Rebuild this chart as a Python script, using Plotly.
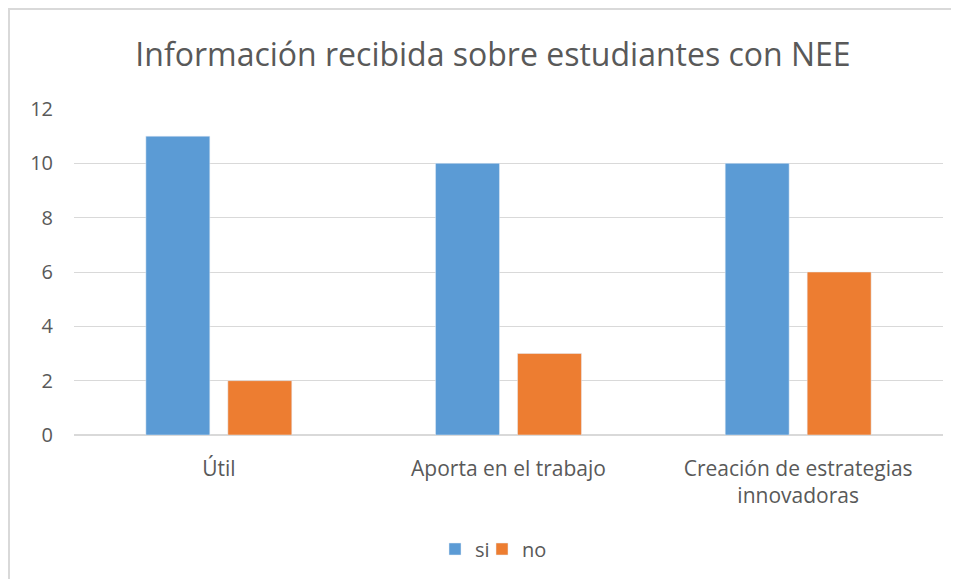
import plotly.graph_objects as go

categories = ["Útil", "Aporta en el trabajo", "Creación de estrategias<br>innovadoras"]
si_values = [11, 10, 10]
no_values = [2, 3, 6]
y_ticks = [0, 2, 4, 6, 8, 10, 12]
title_text = "Información recibida sobre estudiantes con NEE"

# page body adds an 8px offset; figure coordinates = screen - 8
OFF = 8
W, H = 951, 571
L = 74 - OFF
T = 109 - OFF
R = W - (943 - OFF)
B = H - (435 - OFF)
pw, ph = W - L - R, H - T - B

def px_x(sx):
    return (sx - OFF - L) / pw

def px_y(sy):
    return (H - B - (sy - OFF)) / ph

fig = go.Figure()
fig.add_trace(go.Bar(name="si", x=categories, y=si_values, marker_color="#5B9BD5",
                     legend="legend"))
fig.add_trace(go.Bar(name="no", x=categories, y=no_values, marker_color="#ED7D31",
                     legend="legend2"))

font_family = "Open Sans, Liberation Sans, sans-serif"
legend_common = dict(orientation="h", xanchor="left", yanchor="middle", y=px_y(549),
                     font=dict(size=20, color="#595959"), bgcolor="rgba(0,0,0,0)")
fig.update_layout(
    width=W, height=H,
    margin=dict(l=L, r=R, t=T, b=B, autoexpand=False),
    paper_bgcolor="white", plot_bgcolor="white",
    barmode="group", bargap=0.434, bargroupgap=0.22,
    font=dict(family=font_family, color="#595959", size=20),
    title=dict(text=title_text, x=px_x(493), xref="paper", xanchor="center",
               y=1 - (55 - OFF) / H, yanchor="middle",
               font=dict(size=32, color="#595959", family=font_family)),
    legend=dict(x=px_x(435), **legend_common),
    legend2=dict(x=px_x(482), **legend_common),
    showlegend=True,
    shapes=[dict(type="rect", xref="paper", yref="paper",
                 x0=px_x(9), x1=px_x(975), y0=px_y(595), y1=px_y(9),
                 line=dict(color="#D9D9D9", width=2), fillcolor="rgba(0,0,0,0)", layer="below")],
)
fig.update_yaxes(range=[0, 12], tickvals=y_ticks, showgrid=True, gridcolor="#D9D9D9",
                 gridwidth=1, zeroline=True, zerolinecolor="#D9D9D9", showline=False,
                 ticks="", ticklabelstandoff=20, tickfont=dict(size=20, color="#595959"))
fig.update_xaxes(showgrid=False, showline=False, ticks="", ticklabelstandoff=19,
                 tickfont=dict(size=21, color="#595959"))

fig.write_html("out.html")
